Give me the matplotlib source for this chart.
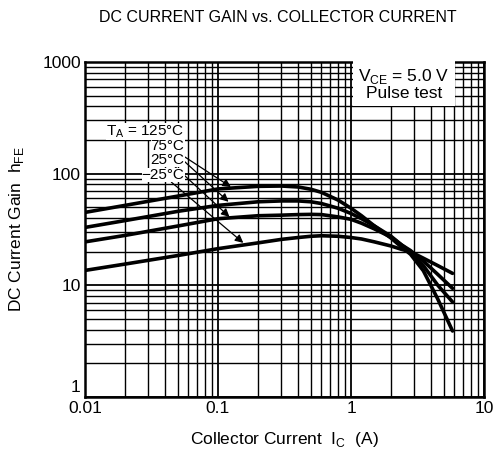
import matplotlib
matplotlib.use('Agg')
import matplotlib.pyplot as plt
import matplotlib.transforms as mtransforms
from matplotlib.ticker import LogLocator, NullFormatter, FixedLocator, FixedFormatter

plt.rcParams['font.family'] = ['Liberation Sans', 'DejaVu Sans']
plt.rcParams['mathtext.fontset'] = 'custom'
plt.rcParams['mathtext.rm'] = 'Liberation Sans'

# collector current (A)
ic = [0.01, 0.02, 0.05, 0.1, 0.2, 0.3, 0.4, 0.5, 0.6, 0.8, 1.0, 1.2, 1.5, 2.0, 2.4, 2.8, 3.5, 4.5, 5.8]

# hFE per ambient temperature
hfe_125 = [45, 52, 63, 73, 77, 77.5, 76, 72.5, 68, 58, 49, 42, 34, 26.5, 22, 19, 13.5, 7.5, 3.9]
hfe_75 = [33, 38, 46, 52, 56, 57, 57, 56, 54, 49, 44, 39.5, 34, 27.5, 23, 20, 15, 10, 7.1]
hfe_25 = [24.5, 28, 34, 39.5, 42, 42.5, 43, 43.2, 43, 41, 39, 36, 32, 27, 23, 20.5, 16.5, 12.5, 9.4]
hfe_m25 = [13.6, 15.5, 18.5, 21.3, 24, 25.8, 26.8, 27.5, 27.8, 27.5, 26.8, 26, 24.5, 22.5, 21, 20, 17.5, 15, 12.8]

temp_labels = ['T$_{\\mathrm{A}}$ = 125°C', '75°C', '25°C', '−25°C']
label_y = [240, 177, 133, 97]
arrow_to = [(0.125, 76), (0.12, 56), (0.122, 41), (0.155, 24)]

fig = plt.figure(figsize=(5, 4.62), dpi=100)
ax = fig.add_axes([0.17, 0.1407, 0.798, 0.7251])

ax.set_xscale('log')
ax.set_yscale('log')
ax.set_xlim(0.01, 10)
ax.set_ylim(1, 1000)

ax.xaxis.set_major_locator(FixedLocator([0.01, 0.1, 1, 10]))
ax.xaxis.set_major_formatter(FixedFormatter(['0.01', '0.1', '1', '10']))
ax.yaxis.set_major_locator(FixedLocator([1, 10, 100, 1000]))
ax.yaxis.set_major_formatter(FixedFormatter(['1', '10', '100', '1000']))
ax.xaxis.set_minor_locator(LogLocator(base=10, subs=range(2, 10)))
ax.yaxis.set_minor_locator(LogLocator(base=10, subs=range(2, 10)))
ax.xaxis.set_minor_formatter(NullFormatter())
ax.yaxis.set_minor_formatter(NullFormatter())
ax.tick_params(which='both', length=0, labelsize=12.5, pad=3)

# lift the "1" so it clears "0.01"
lbl_one = ax.yaxis.get_majorticklabels()[0]
lbl_one.set_transform(lbl_one.get_transform() +
                      mtransforms.ScaledTranslation(0, 8 / 72, fig.dpi_scale_trans))

ax.grid(which='major', color='black', lw=1.3)
ax.grid(which='minor', color='black', lw=1.0)
for s in ax.spines.values():
    s.set_linewidth(1.8)

for y in [hfe_125, hfe_75, hfe_25, hfe_m25]:
    ax.plot(ic, y, color='black', lw=2.6, solid_capstyle='round', solid_joinstyle='round')

for lab, ly, (ax_x, ax_y) in zip(temp_labels, label_y, arrow_to):
    ax.annotate(lab, xy=(ax_x, ax_y), xytext=(0.056, ly),
                ha='right', va='center', fontsize=11,
                bbox=dict(boxstyle='square,pad=0.0', fc='white', ec='none'),
                arrowprops=dict(arrowstyle='-|>', color='black', lw=0.9,
                                mutation_scale=12, shrinkA=0, shrinkB=0))

ax.text(0.80, 0.985, 'V$_{\\mathrm{CE}}$ = 5.0 V\nPulse test', transform=ax.transAxes,
        ha='center', va='top', fontsize=12.5, linespacing=1.0, multialignment='center',
        bbox=dict(boxstyle='square,pad=0.3', fc='white', ec='none'))

fig.text(0.555, 0.963, 'DC CURRENT GAIN vs. COLLECTOR CURRENT', ha='center', va='center',
         fontsize=11.5)
ax.set_xlabel('Collector Current  I$_{\\mathrm{C}}$  (A)', fontsize=12.5, labelpad=10)
ax.set_ylabel('DC Current Gain  h$_{\\mathrm{FE}}$', fontsize=12.5, labelpad=12)

fig.savefig('out.png', dpi=100)
